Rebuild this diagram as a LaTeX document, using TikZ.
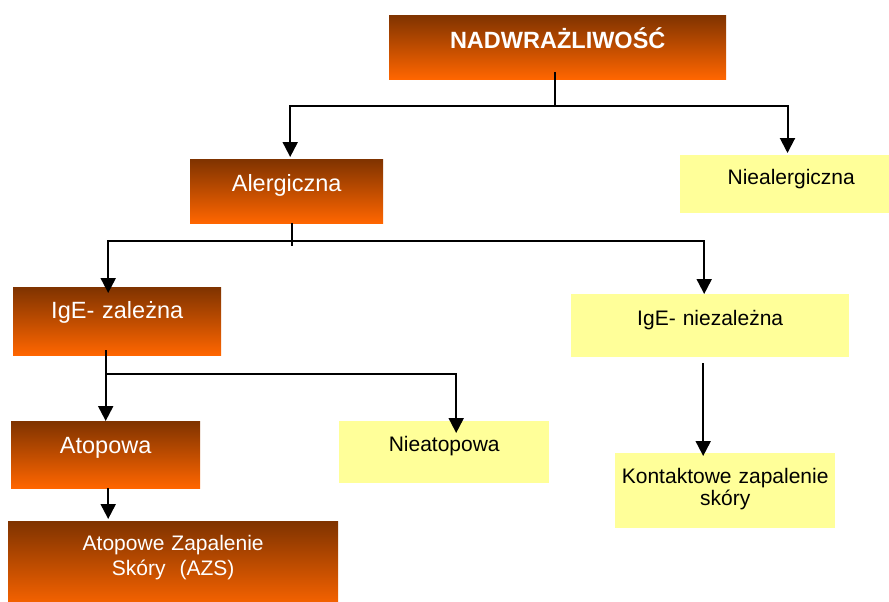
\documentclass[tikz,border=0pt]{standalone}
\usepackage{fontspec}
\setmainfont{Liberation Sans}
\usetikzlibrary{arrows.meta}
\definecolor{brownc}{HTML}{7F3300}
\definecolor{orangec}{HTML}{FF6600}
\definecolor{yellowc}{HTML}{FFFF99}
\tikzset{
  box/.style={inner sep=0pt, align=center, anchor=north west},
  obox/.style={box, top color=brownc, bottom color=orangec, text=white, font=\fontsize{23.5}{26}\selectfont},
  ybox/.style={box, fill=yellowc, text=black, font=\fontsize{21}{23}\selectfont},
  conn/.style={line width=2pt, black},
  arr/.style={conn, -{Triangle[width=15pt,length=15pt]}},
}
\begin{document}
\begin{tikzpicture}[x=1pt,y=-1pt]
\useasboundingbox (0,0) rectangle (889,602);
\clip (0,0) rectangle (889,602);
% boxes
\node[obox, text width=337pt, text height=33pt, text depth=31pt, font=\bfseries\fontsize{23.5}{26}\selectfont] (nad) at (389,15) {NADWRAŻLIWOŚĆ};
\node[obox, text width=193pt, text height=32pt, text depth=32pt] (aler) at (190,159) {Alergiczna};
\node[ybox, text width=222pt, text height=29.5pt, text depth=28.5pt] (nieal) at (680,155) {Niealergiczna};
\node[obox, text width=208pt, text height=31pt, text depth=37pt] (igez) at (13,287) {IgE- zależna};
\node[ybox, text width=278pt, text height=31pt, text depth=32pt] (igen) at (571,294) {IgE- niezależna};
\node[obox, text width=189pt, text height=32pt, text depth=35pt] (atop) at (11,421) {Atopowa};
\node[ybox, text width=210pt, text height=30pt, text depth=32pt] (nieat) at (339,421) {Nieatopowa};
\node[obox, text width=330pt, text height=29pt, text depth=60pt, font=\fontsize{21}{25.5}\selectfont] (azs) at (8,521) {Atopowe Zapalenie\\Skóry~ (AZS)};
\node[ybox, text width=220pt, text height=30pt, text depth=45pt, font=\fontsize{21}{22.5}\selectfont] (kont) at (615,453) {Kontaktowe zapalenie\\skóry};
% connectors
\coordinate (bA) at (555,106);
\draw[conn] ([yshift=7pt]nad.south -| bA) -- (bA);
\draw[arr] (bA) -| ([xshift=3.5pt,yshift=2pt]aler.north);
\draw[arr] (bA) -| ([xshift=-3.7pt,yshift=2pt]nieal.north);
\coordinate (bB) at (292,241);
\draw[conn] (aler.south -| bB) -- ([yshift=-5pt]bB);
\draw[arr] (bB) -| ([xshift=-9pt,yshift=-6pt]igez.north);
\draw[arr] (bB) -| ([xshift=-6pt]igen.north);
\coordinate (bC) at (105,374);
\draw[arr] ([yshift=5pt]igez.south -| atop.north) -- (atop.north);
\draw[arr] (bC) -| ([xshift=12pt,yshift=-12pt]nieat.north);
\draw[arr] ([xshift=2.5pt]atop.south) -- ([xshift=2.5pt,yshift=2pt]atop.south |- azs.north);
\draw[arr] ([xshift=-7pt,yshift=-6pt]igen.south) -- ([xshift=-7pt,yshift=-3pt]igen.south |- kont.north);
\end{tikzpicture}
\end{document}
